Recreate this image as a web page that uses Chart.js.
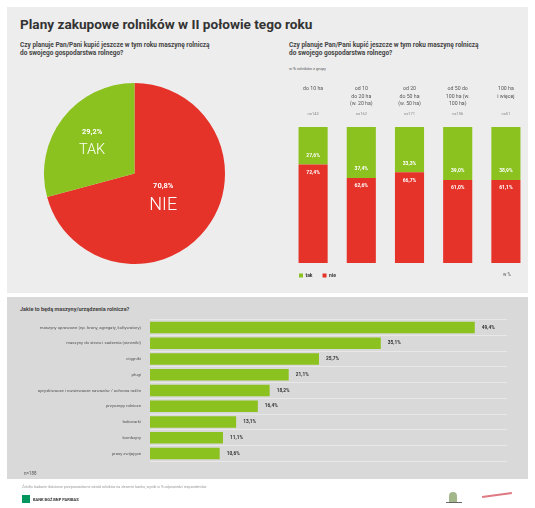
<!DOCTYPE html>
<html lang="pl">
<head>
<meta charset="utf-8">
<script src="https://cdn.jsdelivr.net/npm/chart.js@4/dist/chart.umd.min.js"></script>
<style>
  html,body{margin:0;padding:0;background:#fff;}
  body{width:535px;height:508px;position:relative;overflow:hidden;font-family:Roboto,"Open Sans",sans-serif;}
  .abs{position:absolute;}
  #topPanel{left:7px;top:7px;width:521px;height:286px;background:#ededed;}
  #botPanel{left:7px;top:297px;width:521px;height:182px;background:#d9d9d9;}
  #title{left:20px;top:16px;font-size:13.6px;font-weight:bold;color:#333;white-space:nowrap;}
  .sub{font-size:6.5px;font-weight:bold;color:#444;line-height:8px;white-space:nowrap;}
  .tiny{font-size:4.5px;color:#555;white-space:nowrap;}
</style>
</head>
<body>
<div id="topPanel" class="abs"></div>
<div id="botPanel" class="abs"></div>
<div id="title" class="abs">Plany zakupowe rolników w II połowie tego roku</div>
<div class="abs sub" style="left:20px;top:41px;">Czy planuje Pan/Pani kupić jeszcze w tym roku maszynę rolniczą<br>do swojego gospodarstwa rolnego?</div>
<div class="abs sub" style="left:289px;top:41px;">Czy planuje Pan/Pani kupić jeszcze w tym roku maszynę rolniczą<br>do swojego gospodarstwa rolnego?</div>
<div class="abs tiny" style="left:289px;top:66px;font-size:4px;">w % rolników z grupy</div>

<div class="abs" style="left:44px;top:83px;width:181px;height:181px;"><canvas id="pie"></canvas></div>
<div class="abs" style="left:289px;top:84px;width:241px;height:204px;"><canvas id="stack"></canvas></div>
<div class="abs tiny" style="left:503px;top:272px;">w %</div>

<div class="abs sub" style="left:20px;top:305px;font-size:5.5px;">Jakie to będą maszyny/urządzenia rolnicze?</div>
<div class="abs" style="left:10px;top:308px;width:497px;height:165px;"><canvas id="hbar"></canvas></div>
<div class="abs tiny" style="left:24px;top:471px;">n=188</div>

<div class="abs" style="left:22px;top:485px;font-size:3.6px;color:#999;white-space:nowrap;">Źródło: badanie ilościowe przeprowadzone wśród rolników na zlecenie banku, wyniki w % odpowiedzi respondentów</div>
<div class="abs" style="left:22px;top:495px;width:8px;height:8px;background:#00965e;"></div>
<div class="abs" style="left:33px;top:497px;font-size:4px;font-weight:bold;color:#333;white-space:nowrap;">BANK BGŻ BNP PARIBAS</div>
<div class="abs" style="left:449px;top:492px;width:8px;height:10px;background:#7a9a5a;border-radius:4px 4px 0 0;opacity:0.7;"></div>
<div class="abs" style="left:446px;top:502px;width:16px;height:1px;background:#666;"></div>
<div class="abs" style="left:482px;top:494px;width:30px;height:2px;background:#d04050;transform:rotate(-8deg);opacity:0.7;"></div>

<script>
// ---------- data ----------
const pieCategories = ['NIE', 'TAK'];
const pieValues = [70.8, 29.2];

const sizeClasses = [
  ['do 10 ha'],
  ['od 10', 'do 20 ha', '(w. 20 ha)'],
  ['od 20', 'do 50 ha', '(w. 50 ha)'],
  ['od 50 do', '100 ha (w.', '100 ha)'],
  ['100 ha', 'i więcej']
];
const sizeCounts = ['n=143', 'n=162', 'n=171', 'n=106', 'n=51'];
const takValues = [27.6, 37.4, 33.3, 39.0, 38.9];
const nieValues = [72.4, 62.6, 66.7, 61.0, 61.1];

const machineTypes = [
  'maszyny uprawowe (np. brony, agregaty, kultywatory)',
  'maszyny do siewu i sadzenia (siewniki)',
  'ciągniki',
  'pługi',
  'opryskiwacze i rozsiewacze nawozów / ochrona roślin',
  'przyczepy rolnicze',
  'ładowarki',
  'kombajny',
  'prasy zwijające'
];
const machineShares = [49.4, 35.1, 25.7, 21.1, 18.2, 16.4, 13.1, 11.1, 10.6];

// ---------- style ----------
const GREEN = '#8cc21f';
const RED = '#e6332a';
const FONT = 'Roboto';
const fmt = v => v.toFixed(1).replace('.', ',') + '%';

Chart.defaults.font.family = FONT;
Chart.defaults.animation = false;
Chart.defaults.plugins.tooltip.enabled = false;

// ---------- pie ----------
const pieRadiusFrac = [0.4, 0.59];
const pieFontSize = [18, 14.5];
const pieTextPlugin = {
  id: 'pieText',
  afterDatasetsDraw(chart) {
    const ctx = chart.ctx;
    chart.getDatasetMeta(0).data.forEach((arc, i) => {
      const mid = (arc.startAngle + arc.endAngle) / 2;
      const r = arc.outerRadius * pieRadiusFrac[i];
      const x = arc.x + Math.cos(mid) * r;
      const y = arc.y + Math.sin(mid) * r;
      ctx.save();
      ctx.fillStyle = '#fff';
      ctx.textAlign = 'center';
      ctx.textBaseline = 'middle';
      ctx.font = 'bold 7.5px ' + FONT;
      ctx.fillText(fmt(pieValues[i]), x, y - 9);
      ctx.font = '300 ' + pieFontSize[i] + 'px ' + FONT;
      ctx.fillText(pieCategories[i], x, y + 9 + (i === 0 ? 1 : 0));
      ctx.restore();
    });
  }
};
new Chart(document.getElementById('pie'), {
  type: 'pie',
  data: { labels: pieCategories, datasets: [{ data: pieValues, backgroundColor: [RED, GREEN], borderWidth: 0 }] },
  options: {
    responsive: true, maintainAspectRatio: false,
    layout: { padding: 0 },
    plugins: { legend: { display: false } }
  },
  plugins: [pieTextPlugin]
});

// ---------- stacked bars ----------
const stackTextPlugin = {
  id: 'stackText',
  afterDatasetsDraw(chart) {
    const ctx = chart.ctx;
    ctx.save();
    ctx.fillStyle = '#fff';
    ctx.textAlign = 'center';
    ctx.textBaseline = 'middle';
    ctx.font = 'bold 5px ' + FONT;
    chart.data.datasets.forEach((ds, di) => {
      chart.getDatasetMeta(di).data.forEach((bar, i) => {
        const isTak = ds.label === 'tak';
        const y = isTak ? bar.base - 9 : bar.y + 8;
        ctx.fillText(fmt(ds.data[i]), bar.x, y);
      });
    });
    ctx.restore();
  }
};
new Chart(document.getElementById('stack'), {
  type: 'bar',
  data: {
    labels: sizeClasses,
    datasets: [
      { label: 'nie', data: nieValues, backgroundColor: RED },
      { label: 'tak', data: takValues, backgroundColor: GREEN }
    ]
  },
  options: {
    responsive: true, maintainAspectRatio: false,
    layout: { padding: { top: 1, left: 0, right: 0, bottom: 0 } },
    datasets: { bar: { barPercentage: 0.604, categoryPercentage: 1 } },
    scales: {
      x: {
        stacked: true, position: 'top', weight: 1, offset: true,
        grid: { display: false, drawTicks: false }, border: { display: false },
        ticks: { crossAlign: 'far', font: { size: 5.2, lineHeight: 1.45 }, color: '#555', padding: 0, maxRotation: 0, autoSkip: false }
      },
      x2: {
        type: 'category', labels: sizeCounts, position: 'top', weight: 0, offset: true,
        grid: { display: false, drawTicks: false }, border: { display: false },
        ticks: {
          crossAlign: 'far', font: { size: 4, lineHeight: 1.5 }, color: '#888', padding: 3.7,
          maxRotation: 0, autoSkip: false,
          callback(value) { return [this.getLabelForValue(value), '']; }
        }
      },
      y: { stacked: true, min: 0, max: 100, display: false }
    },
    plugins: {
      legend: {
        position: 'bottom', align: 'start', reverse: true,
        labels: { boxWidth: 4, boxHeight: 4, font: { size: 5, weight: 'bold' }, color: '#333', padding: 10 }
      }
    }
  },
  plugins: [stackTextPlugin]
});

// ---------- horizontal bars ----------
const hbarTextPlugin = {
  id: 'hbarText',
  afterDatasetsDraw(chart) {
    const ctx = chart.ctx;
    ctx.save();
    ctx.fillStyle = '#333';
    ctx.textAlign = 'left';
    ctx.textBaseline = 'middle';
    ctx.font = 'bold 4.8px ' + FONT;
    chart.getDatasetMeta(0).data.forEach((bar, i) => {
      ctx.fillText(fmt(machineShares[i]), bar.x + 7, bar.y);
    });
    ctx.restore();
  }
};
new Chart(document.getElementById('hbar'), {
  type: 'bar',
  data: {
    labels: machineTypes,
    datasets: [{ data: machineShares, backgroundColor: GREEN, barPercentage: 0.72, categoryPercentage: 1 }]
  },
  options: {
    indexAxis: 'y',
    responsive: true, maintainAspectRatio: false,
    layout: { padding: 0 },
    scales: {
      x: { min: 0, max: 54.3, display: false },
      y: {
        afterFit(scale) { scale.width = 140; },
        grid: { offset: true, color: 'rgba(255,255,255,0.5)', drawTicks: false, lineWidth: 0.8 },
        border: { display: false },
        ticks: { font: { size: 4.3 }, color: '#555', padding: 9, autoSkip: false }
      }
    },
    plugins: { legend: { display: false } }
  },
  plugins: [hbarTextPlugin]
});
</script>
</body>
</html>
